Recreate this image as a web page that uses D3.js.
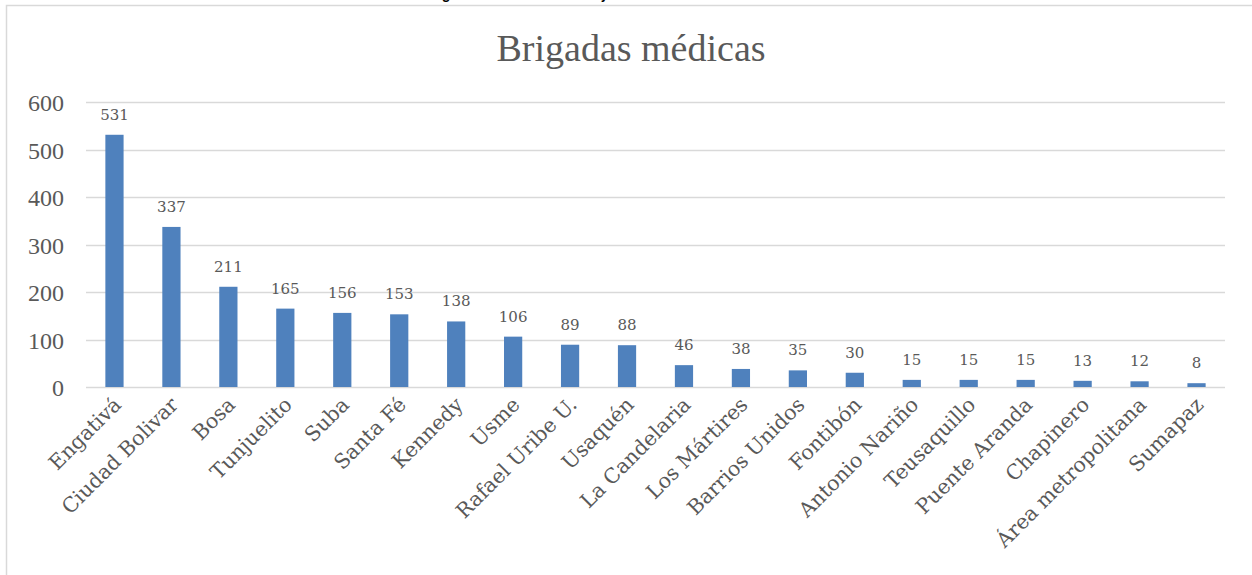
<!DOCTYPE html>
<html><head><meta charset="utf-8">
<script src="https://cdn.jsdelivr.net/npm/d3@7"></script>
<style>html,body{margin:0;padding:0;background:#fff;overflow:hidden}</style>
</head><body>
<svg id="chart" width="1252" height="575"></svg>
<script>
const chartTitle = "Brigadas médicas";
const figureCaption = "Figura 11. Número total de jornadas realizadas";
const categories = ["Engativá","Ciudad Bolivar","Bosa","Tunjuelito","Suba","Santa Fé","Kennedy","Usme","Rafael Uribe U.","Usaquén","La Candelaria","Los Mártires","Barrios Unidos","Fontibón","Antonio Nariño","Teusaquillo","Puente Aranda","Chapinero","Área metropolitana","Sumapaz"];
const values = [531,337,211,165,156,153,138,106,89,88,46,38,35,30,15,15,15,13,12,8];
const yTicks = [0,100,200,300,400,500,600];

const svg = d3.select("#chart");
const serif = "'Liberation Serif', serif";
const wideSerif = "'DejaVu Serif', serif";
const textColor = "#595959";

// caption cut off at top
svg.append("text").attr("x", 432).attr("y", -1).attr("font-family","Carlito, 'Liberation Sans', sans-serif")
  .attr("font-weight","bold").attr("font-size",15).attr("fill","#000").text(figureCaption);

// frame
svg.append("rect").attr("x",6.5).attr("y",5.5).attr("width",1300).attr("height",700)
  .attr("fill","none").attr("stroke","#D9D9D9").attr("stroke-width",1.5);

const x = d3.scaleBand().domain(categories).range([86,1225]).paddingInner(0.68).paddingOuter(0.34);
const y = d3.scaleLinear().domain([0,600]).range([387,102]);

// gridlines
svg.append("g").selectAll("line").data(yTicks).join("line")
  .attr("x1",86).attr("x2",1225).attr("y1",d=>Math.round(y(d))+0.5).attr("y2",d=>Math.round(y(d))+0.5)
  .attr("stroke","#D9D9D9").attr("stroke-width",1.3);

// y axis labels
const yAxis = d3.axisLeft(y).tickValues(yTicks).tickSize(0).tickPadding(0);
const ga = svg.append("g").attr("transform","translate(64,0)").call(yAxis);
ga.select(".domain").remove();
ga.selectAll("text").attr("font-family",serif).attr("font-size",24).attr("fill",textColor).attr("dy","0.36em");

// title
svg.append("text").attr("x",631).attr("y",61).attr("text-anchor","middle")
  .attr("font-family",serif).attr("font-size",38).attr("fill",textColor).text(chartTitle);

// bars
svg.append("g").selectAll("rect").data(values).join("rect")
  .attr("x",(d,i)=>x(categories[i])).attr("width",x.bandwidth())
  .attr("y",d=>y(d)).attr("height",d=>y(0)-y(d)).attr("fill","#4F81BD");

// data labels
svg.append("g").selectAll("text").data(values).join("text")
  .attr("x",(d,i)=>x(categories[i])+x.bandwidth()/2).attr("y",d=>y(d)-15)
  .attr("text-anchor","middle").attr("font-family",wideSerif).attr("font-size",15).attr("fill",textColor)
  .text(d=>d);

// category labels
svg.append("g").selectAll("text").data(categories).join("text")
  .attr("transform",d=>`translate(${x(d)+x.bandwidth()/2+8},${406}) rotate(-45)`)
  .attr("text-anchor","end").attr("font-family",wideSerif).attr("font-size",20.5).attr("fill",textColor)
  .text(d=>d);
</script>
</body></html>
